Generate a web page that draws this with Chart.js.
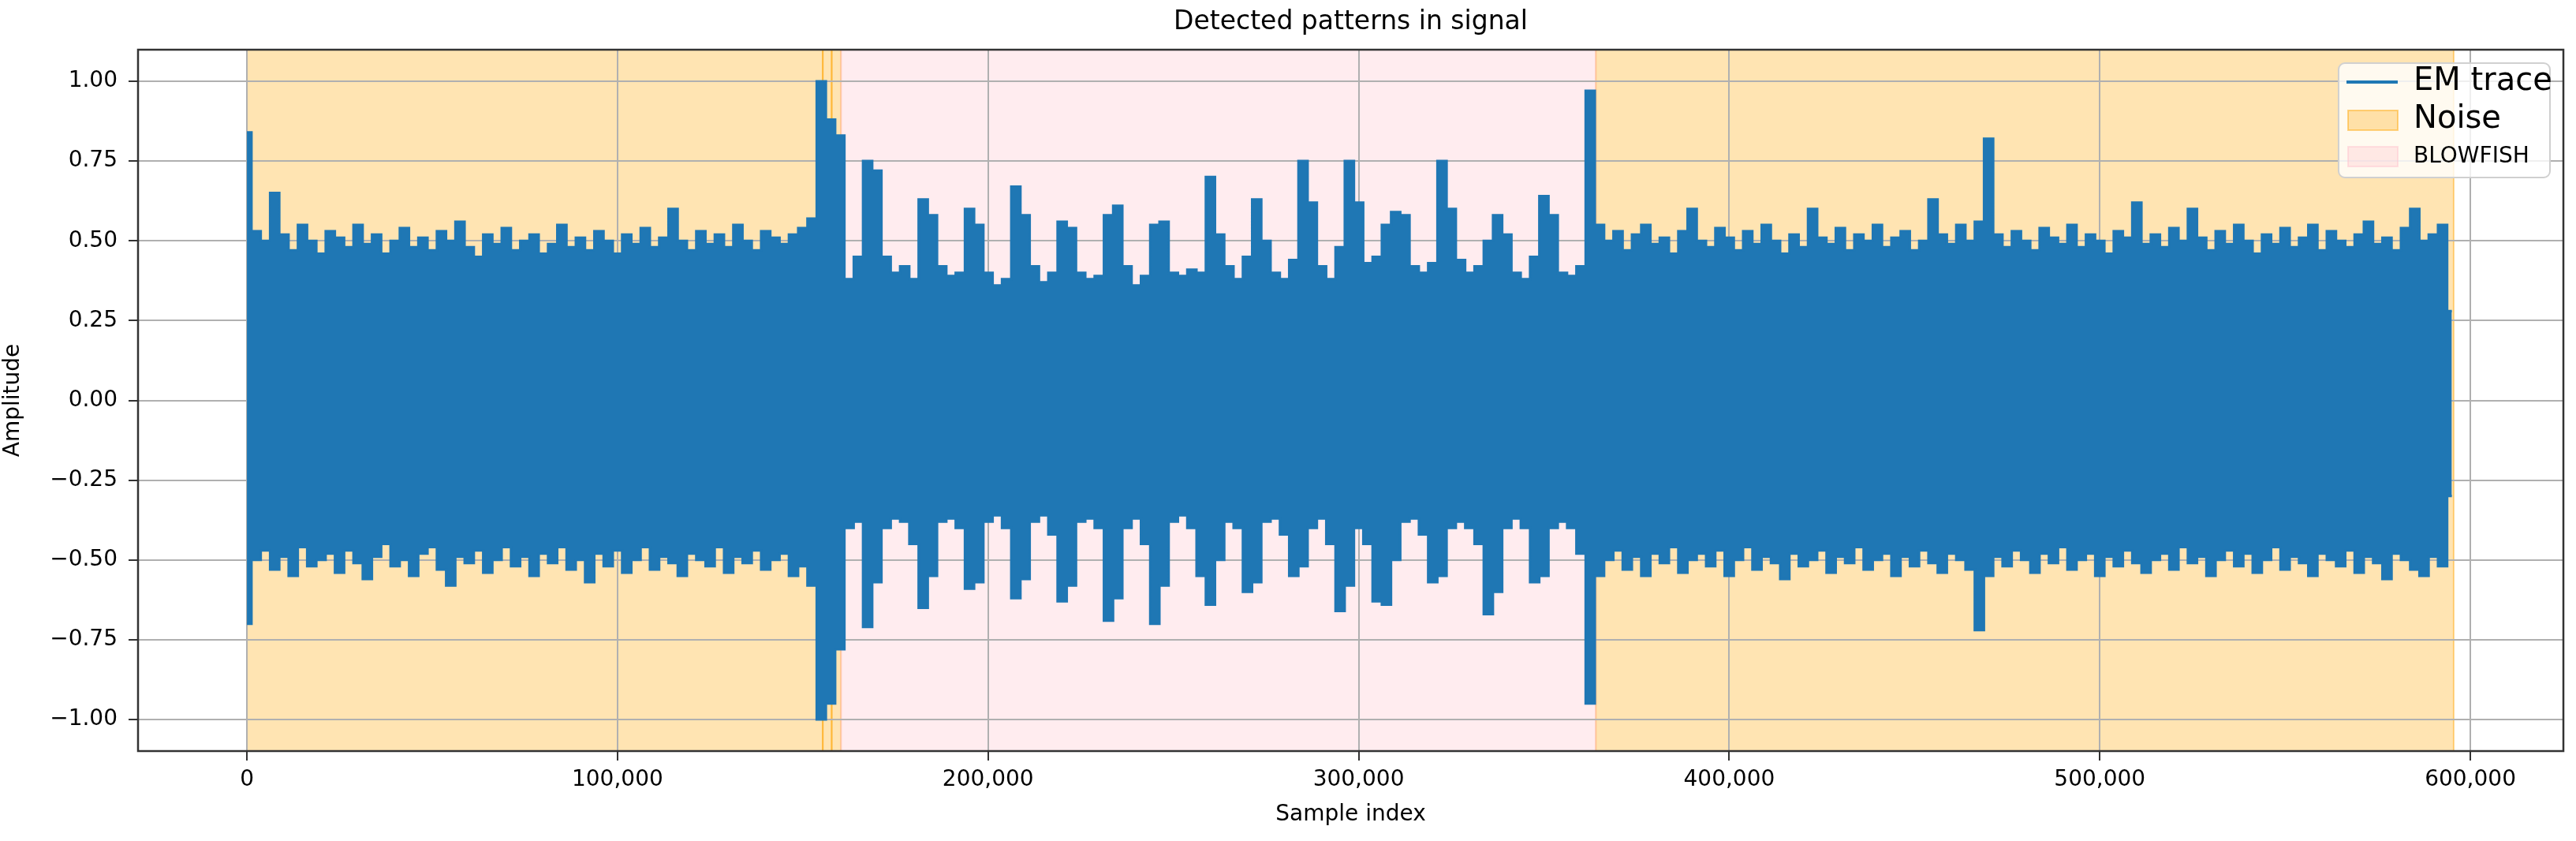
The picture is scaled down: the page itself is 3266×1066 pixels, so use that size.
<!DOCTYPE html>
<html><head><meta charset="utf-8">
<script src="https://cdn.jsdelivr.net/npm/chart.js@4.4.1/dist/chart.umd.min.js"></script>
<style>html,body{margin:0;padding:0;background:#fff}#wrap{width:3266px;height:1066px}</style>
</head><body><div id="wrap"><canvas id="c" width="3266" height="1066"></canvas></div>
<script>
const STEP = 2500; // samples per envelope bin
const upperNoiseA = [0.84,0.53,0.50,0.65,0.52,0.47,0.55,0.50,0.46,0.53,
0.51,0.48,0.55,0.49,0.52,0.46,0.50,0.54,0.48,0.51,
0.47,0.53,0.50,0.56,0.48,0.45,0.52,0.49,0.54,0.47,
0.50,0.52,0.46,0.49,0.55,0.48,0.51,0.47,0.53,0.50,
0.46,0.52,0.49,0.54,0.48,0.51,0.60,0.50,0.47,0.53,
0.49,0.52,0.48,0.55,0.50,0.47,0.53,0.51,0.49,0.52,
0.54,0.57];
const upperTransition = [1.00,0.88,0.83];
const upperBlowfish = [0.38,0.45,0.75,0.72,0.45,0.40,0.42,0.38,0.63,0.58,
0.42,0.39,0.40,0.60,0.55,0.40,0.36,0.38,0.67,0.58,
0.42,0.37,0.40,0.56,0.54,0.40,0.38,0.39,0.58,0.61,
0.42,0.36,0.39,0.55,0.56,0.40,0.39,0.41,0.40,0.70,
0.52,0.42,0.38,0.45,0.63,0.50,0.40,0.38,0.44,0.75,
0.62,0.42,0.38,0.48,0.75,0.62,0.43,0.45,0.55,0.59,
0.58,0.42,0.40,0.43,0.75,0.60,0.44,0.40,0.42,0.50,
0.58,0.52,0.40,0.38,0.45,0.64,0.58,0.40,0.39,0.42,
0.97,0.55];
const upperNoiseB = [0.50,0.53,0.47,0.52,0.55,0.49,0.51,0.46,0.53,0.60,
0.50,0.48,0.54,0.51,0.47,0.53,0.49,0.55,0.50,0.46,
0.52,0.48,0.60,0.51,0.49,0.54,0.47,0.52,0.50,0.55,
0.48,0.51,0.53,0.47,0.50,0.63,0.52,0.49,0.55,0.50,
0.56,0.82,0.52,0.48,0.53,0.50,0.47,0.54,0.51,0.49,
0.55,0.48,0.52,0.50,0.46,0.53,0.51,0.62,0.49,0.52,
0.48,0.54,0.50,0.60,0.51,0.47,0.53,0.49,0.55,0.50,
0.46,0.52,0.49,0.54,0.48,0.51,0.55,0.47,0.53,0.50,
0.48,0.52,0.56,0.49,0.51,0.47,0.54,0.60,0.50,0.52,
0.55,0.28];
const lowerNoiseA = [-0.70,-0.50,-0.47,-0.53,-0.49,-0.55,-0.46,-0.52,-0.50,-0.48,
-0.54,-0.47,-0.51,-0.56,-0.49,-0.45,-0.52,-0.50,-0.55,-0.48,
-0.46,-0.53,-0.58,-0.49,-0.51,-0.47,-0.54,-0.50,-0.46,-0.52,
-0.49,-0.55,-0.48,-0.51,-0.46,-0.53,-0.50,-0.57,-0.48,-0.52,
-0.47,-0.54,-0.50,-0.46,-0.53,-0.49,-0.51,-0.55,-0.48,-0.50,
-0.52,-0.46,-0.54,-0.49,-0.51,-0.47,-0.53,-0.50,-0.48,-0.55,
-0.52,-0.58];
const lowerTransition = [-1.00,-0.95,-0.78];
const lowerBlowfish = [-0.40,-0.38,-0.71,-0.57,-0.40,-0.37,-0.38,-0.45,-0.65,-0.55,
-0.38,-0.37,-0.40,-0.59,-0.57,-0.38,-0.36,-0.40,-0.62,-0.56,
-0.38,-0.36,-0.42,-0.63,-0.58,-0.38,-0.37,-0.40,-0.69,-0.62,
-0.40,-0.37,-0.45,-0.70,-0.58,-0.38,-0.36,-0.40,-0.55,-0.64,
-0.50,-0.38,-0.40,-0.60,-0.57,-0.38,-0.37,-0.42,-0.55,-0.52,
-0.40,-0.37,-0.45,-0.66,-0.58,-0.40,-0.45,-0.63,-0.64,-0.50,
-0.38,-0.37,-0.42,-0.57,-0.55,-0.40,-0.38,-0.40,-0.45,-0.67,
-0.60,-0.40,-0.37,-0.40,-0.57,-0.55,-0.40,-0.38,-0.40,-0.48,
-0.95,-0.55];
const lowerNoiseB = [-0.50,-0.47,-0.53,-0.49,-0.55,-0.48,-0.51,-0.46,-0.54,-0.50,
-0.48,-0.52,-0.47,-0.55,-0.50,-0.46,-0.53,-0.49,-0.51,-0.56,
-0.48,-0.52,-0.50,-0.47,-0.54,-0.49,-0.51,-0.46,-0.53,-0.50,
-0.48,-0.55,-0.49,-0.52,-0.47,-0.51,-0.54,-0.48,-0.50,-0.53,
-0.72,-0.55,-0.49,-0.52,-0.47,-0.50,-0.54,-0.48,-0.51,-0.46,
-0.53,-0.50,-0.48,-0.55,-0.49,-0.52,-0.47,-0.51,-0.54,-0.50,
-0.48,-0.53,-0.46,-0.51,-0.49,-0.55,-0.50,-0.47,-0.52,-0.48,
-0.54,-0.50,-0.46,-0.53,-0.49,-0.51,-0.55,-0.48,-0.50,-0.52,
-0.47,-0.54,-0.49,-0.51,-0.56,-0.48,-0.50,-0.53,-0.55,-0.49,
-0.52,-0.30];
const noiseSpans = [[0,155400],[155400,157800],[157800,160300],[364000,595500]];
const blowfishSpans = [[160300,364000]];
const xTicks = [0,100000,200000,300000,400000,500000,600000];
const yTicks = [-1.00,-0.75,-0.50,-0.25,0.00,0.25,0.50,0.75,1.00];

const upper = [...upperNoiseA,...upperTransition,...upperBlowfish,...upperNoiseB];
const lower = [...lowerNoiseA,...lowerTransition,...lowerBlowfish,...lowerNoiseB];
const upPts = upper.map((v,i)=>({x:i*STEP,y:v}));
const loPts = lower.map((v,i)=>({x:i*STEP,y:v}));

const BLUE='#1f77b4';
const NOISE_FILL='rgba(255,165,0,0.3)', NOISE_EDGE='rgba(255,165,0,0.45)';
const PINK_FILL='rgba(255,192,203,0.3)', PINK_EDGE='rgba(255,192,203,0.45)';
const FONT='"DejaVu Sans", sans-serif';

const deco = {
  id:'deco',
  beforeDraw(chart){
    const {ctx,chartArea:a,scales:{x}}=chart;
    ctx.save();
    ctx.fillStyle='#fff';ctx.fillRect(0,0,chart.width,chart.height);
    const draw=(spans,fill,edge)=>spans.forEach(([s,e])=>{
      const x0=x.getPixelForValue(s),x1=x.getPixelForValue(e);
      ctx.fillStyle=fill;ctx.fillRect(x0,a.top,x1-x0,a.bottom-a.top);
      ctx.strokeStyle=edge;ctx.lineWidth=2;ctx.strokeRect(x0,a.top,x1-x0,a.bottom-a.top);
    });
    draw(noiseSpans,NOISE_FILL,NOISE_EDGE);
    draw(blowfishSpans,PINK_FILL,PINK_EDGE);
    ctx.restore();
  },
  afterDraw(chart){
    const {ctx,chartArea:a}=chart;
    ctx.save();
    ctx.strokeStyle='#333';ctx.lineWidth=2.5;
    ctx.strokeRect(a.left,a.top,a.right-a.left,a.bottom-a.top);
    ctx.fillStyle='#000';ctx.font='33px '+FONT;ctx.textAlign='center';ctx.textBaseline='middle';
    ctx.fillText('Detected patterns in signal',(a.left+a.right)/2,28);
    // legend
    const lx=2965,ly=80,lw=268,lh=145,r=8;
    ctx.beginPath();ctx.roundRect(lx,ly,lw,lh,r);
    ctx.fillStyle='rgba(255,255,255,0.8)';ctx.fill();
    ctx.strokeStyle='#d0d0d0';ctx.lineWidth=2;ctx.stroke();
    ctx.strokeStyle=BLUE;ctx.lineWidth=4;ctx.beginPath();ctx.moveTo(2975,104);ctx.lineTo(3040,104);ctx.stroke();
    ctx.fillStyle=NOISE_FILL;ctx.fillRect(2977,140,63,25);ctx.strokeStyle=NOISE_EDGE;ctx.lineWidth=2;ctx.strokeRect(2977,140,63,25);
    ctx.fillStyle=PINK_FILL;ctx.fillRect(2977,186,63,25);ctx.strokeStyle=PINK_EDGE;ctx.strokeRect(2977,186,63,25);
    ctx.fillStyle='#000';ctx.textAlign='left';
    ctx.font='40px '+FONT;ctx.fillText('EM trace',3060,104);ctx.fillText('Noise',3060,152);
    ctx.font='28px '+FONT;ctx.fillText('BLOWFISH',3060,199);
    ctx.restore();
  }
};

new Chart(document.getElementById('c'),{
  type:'line',
  data:{datasets:[
    {label:'EM trace',data:upPts,borderColor:BLUE,borderWidth:3,pointRadius:0,stepped:'middle',fill:false},
    {label:'EM trace lower',data:loPts,borderColor:BLUE,backgroundColor:BLUE,borderWidth:3,pointRadius:0,stepped:'middle',fill:'-1'}
  ]},
  options:{
    responsive:false,animation:false,devicePixelRatio:1,
    layout:{padding:{top:63,right:16,left:0,bottom:0}},
    plugins:{legend:{display:false},tooltip:{enabled:false},title:{display:false}},
    scales:{
      x:{type:'linear',min:-29380,max:625100,
        afterFit(s){s.height=114;},
        afterBuildTicks(s){s.ticks=xTicks.map(v=>({value:v}));},
        grid:{color:'#b0b0b0',lineWidth:2,tickColor:'#333',tickLength:12,drawTicks:true},
        border:{display:false},
        ticks:{color:'#000',font:{family:FONT,size:28},padding:8,maxRotation:0,autoSkip:false,
          callback:v=>v.toLocaleString('en-US')},
        title:{display:true,text:'Sample index',color:'#000',font:{family:FONT,size:28},padding:{top:0,bottom:16}}
      },
      y:{type:'linear',min:-1.0988,max:1.0988,
        afterFit(s){s.width=175;},
        afterBuildTicks(s){s.ticks=yTicks.map(v=>({value:v}));},
        grid:{color:'#b0b0b0',lineWidth:2,tickColor:'#333',tickLength:12,drawTicks:true},
        border:{display:false},
        ticks:{color:'#000',font:{family:FONT,size:28},padding:14,autoSkip:false,
          callback:v=>(v<0?'\u2212':'')+Math.abs(v).toFixed(2)},
        title:{display:true,text:'Amplitude',color:'#000',font:{family:FONT,size:28},padding:{top:0,bottom:10}}
      }
    }
  },
  plugins:[deco]
});
</script></body></html>
